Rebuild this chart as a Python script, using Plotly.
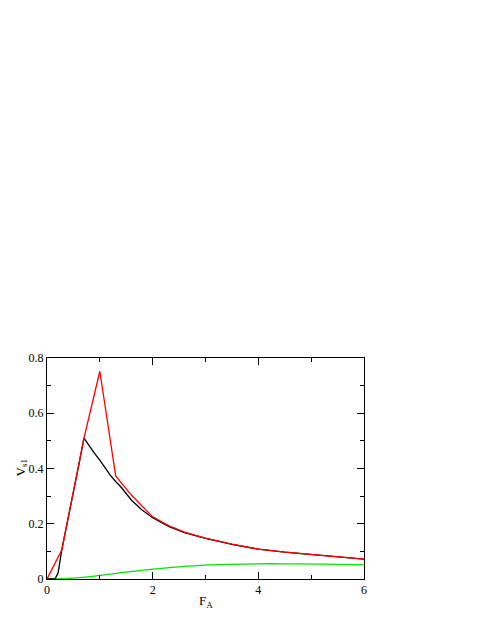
import plotly.graph_objects as go

# black curve
x_black = [0, 0.15, 0.21, 0.28, 0.4, 0.5, 0.6, 0.7, 0.78, 0.9, 1.0, 1.1, 1.2, 1.3, 1.4,
           1.6, 1.8, 2.0, 2.3, 2.6, 3.0, 3.5, 4.0, 4.5, 5.0, 5.5, 6.0]
y_black = [0, 0, 0.022, 0.105, 0.22, 0.31, 0.41, 0.51, 0.486, 0.455, 0.43, 0.40, 0.375, 0.353, 0.333,
           0.285, 0.25, 0.222, 0.19, 0.168, 0.147, 0.125, 0.108, 0.097, 0.088, 0.079, 0.072]

# red curve
x_red = [0, 0.28, 0.7, 1.0, 1.3, 1.6, 2.0, 2.3, 2.6, 3.0, 3.5, 4.0, 4.5, 5.0, 5.5, 6.0]
y_red = [0, 0.105, 0.51, 0.752, 0.373, 0.303, 0.225, 0.193, 0.17, 0.148, 0.126, 0.108, 0.097, 0.088, 0.079, 0.072]

# green curve
x_green = [0, 0.5, 1.0, 1.5, 2.0, 2.5, 3.0, 3.5, 4.0, 4.5, 5.0, 5.5, 6.0]
y_green = [0, 0.003, 0.013, 0.025, 0.036, 0.044, 0.050, 0.053, 0.055, 0.055, 0.054, 0.053, 0.051]

serif = "Liberation Serif, Times New Roman, serif"

fig = go.Figure()
fig.add_trace(go.Scatter(x=x_green, y=y_green, mode="lines", line=dict(color="#00e600", width=1.3, shape="spline")))
fig.add_trace(go.Scatter(x=x_black, y=y_black, mode="lines", line=dict(color="black", width=1.3)))
fig.add_trace(go.Scatter(x=x_red, y=y_red, mode="lines", line=dict(color="red", width=1.3)))

axis_common = dict(
    showgrid=False, zeroline=False, showline=True, linecolor="black", linewidth=1,
    mirror="allticks", ticks="inside", ticklen=7, tickcolor="black", automargin=False,
    tickfont=dict(family=serif, size=12, color="black"),
)

fig.update_xaxes(range=[0, 6], dtick=2, tick0=0,
                 minor=dict(ticks="inside", ticklen=4, dtick=1, tickcolor="black"),
                 **axis_common)
fig.update_yaxes(range=[0, 0.8], dtick=0.2, tick0=0,
                 minor=dict(ticks="inside", ticklen=4, dtick=0.1, tickcolor="black"),
                 **axis_common)

# axis titles as annotations so they sit where the original has them
fig.add_annotation(text="F<sub>A</sub>", xref="paper", yref="paper", x=0.5, y=0,
                   xanchor="center", yanchor="top", yshift=-12, showarrow=False,
                   font=dict(family=serif, size=13, color="black"))
fig.add_annotation(text="V<sub>s1</sub>", xref="paper", yref="paper", x=0, y=0.5,
                   xanchor="center", yanchor="middle", xshift=-26, textangle=-90, showarrow=False,
                   font=dict(family=serif, size=13, color="black"))

# the page puts the figure 8px in from the top-left corner
fig.update_layout(
    width=485, height=627,
    margin=dict(l=39, r=129, t=350, b=56),
    paper_bgcolor="white", plot_bgcolor="white",
    showlegend=False,
)

fig.write_html("out.html")
